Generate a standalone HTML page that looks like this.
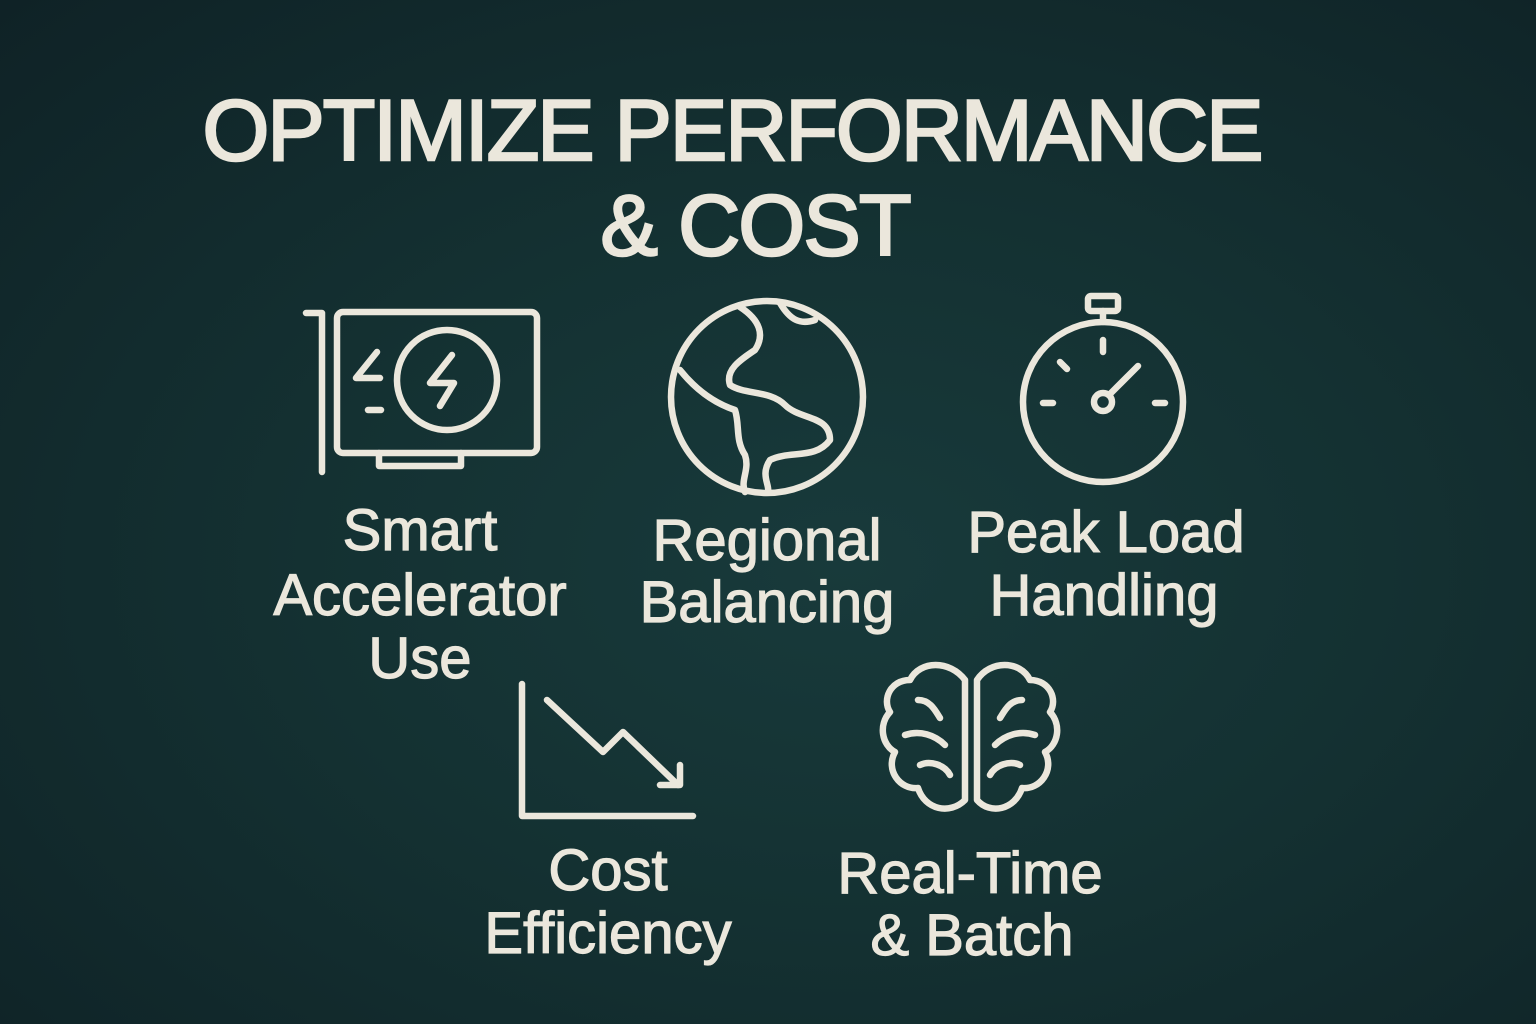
<!DOCTYPE html>
<html><head><meta charset="utf-8"><style>
html,body{margin:0;padding:0}
body{width:1536px;height:1024px;overflow:hidden;background:radial-gradient(ellipse at 55% 55%,#183a3b 0%,#143132 45%,#0f2226 100%);}
svg{display:block}
text{font-family:"Liberation Sans",sans-serif;fill:#ebe7dc;text-anchor:middle}
.t{stroke:#ebe7dc;stroke-width:2.5}
.l{stroke:#ebe7dc;stroke-width:1.2}
.s{fill:none;stroke:#ebe7dc;stroke-width:6.5;stroke-linecap:round;stroke-linejoin:round}
</style></head><body>
<svg width="1536" height="1024" viewBox="0 0 1536 1024">
<text class="t" x="735" y="160" font-size="86" letter-spacing="4" textLength="1065">OPTIMIZE PERFORMANCE</text>
<text class="t" x="758" y="255" font-size="86" letter-spacing="4" textLength="315">&amp; COST</text>

<g class="s">
<path d="M306 313 H322 V472"/>
<rect x="337" y="312" width="200" height="141" rx="6"/>
<circle cx="447" cy="380" r="50"/>
<path d="M452 355 L430 383 H454 L440 406"/>
<path d="M377 352 L356 378 H380"/>
<path d="M368 410 H381"/>
<path d="M379 453 V466 H461 V453"/>
</g>
<text class="l" font-size="58"><tspan x="420" y="550">Smart</tspan><tspan x="420" y="615">Accelerator</tspan><tspan x="420" y="678">Use</tspan></text>

<g class="s">
<circle cx="767" cy="397" r="96"/>
<path d="M740 307 C760 320 765 335 755 350 C740 360 725 370 730 385 C745 395 770 390 785 405 C800 420 830 415 830 440 C815 460 790 450 770 460 C760 475 770 485 768 492"/>
<path d="M680 370 C700 395 720 405 735 410 C740 425 735 440 745 455 C750 470 740 480 745 492"/>
<path d="M780 303 C790 320 800 325 815 320"/>
</g>
<text class="l" font-size="58"><tspan x="767" y="560">Regional</tspan><tspan x="767" y="622">Balancing</tspan></text>

<g class="s">
<circle cx="1103" cy="402" r="80"/>
<rect x="1088" y="296" width="30" height="15" rx="3"/>
<path d="M1103 311 V322"/>
<path d="M1103 340 V352 M1043 403 H1053 M1155 403 H1165 M1060 362 L1067 369"/>
<circle cx="1103" cy="402" r="9"/>
<path d="M1109 395 L1138 366"/>
</g>
<text class="l" font-size="58"><tspan x="1106" y="552">Peak Load</tspan><tspan x="1104" y="615">Handling</tspan></text>

<g class="s">
<path d="M522 684 V816 H693"/>
<path d="M547 700 L603 752 L623 732 L678 785"/>
<path d="M660 785 H680 V765"/>
</g>
<text class="l" font-size="58"><tspan x="608" y="890">Cost</tspan><tspan x="608" y="953">Efficiency</tspan></text>

<g class="s">
<path d="M965 680 C950 660 920 660 910 680 C890 680 882 700 890 712 C878 725 882 745 895 752 C885 770 900 790 918 788 C925 810 950 815 965 800 Z"/>
<path d="M977 680 C990 660 1020 660 1030 680 C1050 680 1058 700 1050 712 C1062 725 1058 745 1045 752 C1055 770 1040 790 1022 788 C1015 810 990 815 977 800 Z"/>
<path d="M918 700 C930 700 935 710 940 718 M905 735 C920 730 935 735 945 745 M920 765 C930 760 945 765 950 775"/>
<path d="M1022 700 C1010 700 1005 710 1000 718 M1035 735 C1020 730 1005 735 995 745 M1020 765 C1010 760 995 765 990 775"/>
</g>
<text class="l" font-size="58"><tspan x="970" y="893">Real-Time</tspan><tspan x="972" y="955">&amp; Batch</tspan></text>
</svg>
</body></html>
